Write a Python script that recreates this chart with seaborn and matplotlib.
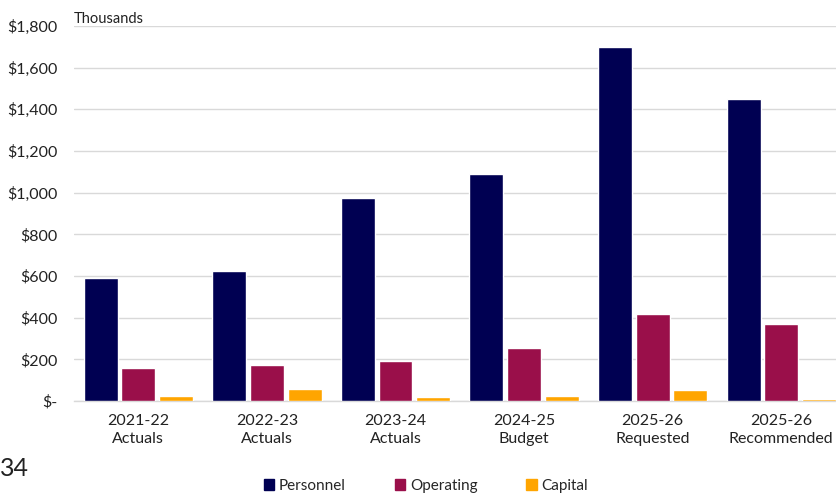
import numpy as np
import pandas as pd
import seaborn as sns
import matplotlib.pyplot as plt
from matplotlib.ticker import FuncFormatter, FixedLocator

# Data (thousands of dollars)
periods = ["2021-22\nActuals", "2022-23\nActuals", "2023-24\nActuals",
           "2024-25\nBudget", "2025-26\nRequested", "2025-26\nRecommended"]
personnel = [590, 624, 975, 1090, 1700, 1450]
operating = [158, 173, 192, 254, 418, 370]
capital = [24, 58, 18, 22, 53, 10]
series = ["Personnel", "Operating", "Capital"]
colors = ["#000052", "#9A0F4A", "#FFA500"]

df = pd.DataFrame({"period": periods, "Personnel": personnel,
                   "Operating": operating, "Capital": capital})
long_df = df.melt(id_vars="period", value_vars=series, var_name="type", value_name="amount")

sns.set_style("white")
plt.rcParams['font.family'] = ['Lato', 'DejaVu Sans']

fig = plt.figure(figsize=(8.37, 4.94), dpi=100)
ax = fig.add_axes([74/837, 93/494, 771.6/837, 375/494])

sns.barplot(data=long_df, x="period", y="amount", hue="type", hue_order=series,
            palette=colors, width=0.88, gap=0.1, saturation=1, ax=ax, legend=False)

ax.set_ylim(0, 1800)
ax.set_xlim(-0.5, len(periods) - 0.5)
ax.set_yticks(np.arange(0, 1801, 200))
ax.yaxis.set_major_formatter(FuncFormatter(lambda v, p: "$-" if v == 0 else f"${v:,.0f}"))
ax.grid(axis="y", color="#d9d9d9", linewidth=1)
ax.set_axisbelow(True)
for s in ["top", "right", "left"]:
    ax.spines[s].set_visible(False)
ax.spines["bottom"].set_color("#d9d9d9")
ax.spines["bottom"].set_linewidth(1)
ax.spines["bottom"].set_zorder(0.5)

ax.tick_params(axis="x", which="major", length=0, pad=9, labelsize=11.5, colors="#222222")
for lbl in ax.get_xticklabels():
    lbl.set_linespacing(1.45)
ax.xaxis.set_minor_locator(FixedLocator(np.arange(-0.5, len(periods), 1)))
ax.tick_params(axis="x", which="minor", length=6, color="#d9d9d9", width=1)
ax.tick_params(axis="y", length=0, pad=12, labelsize=11.5, colors="#222222")
ax.set_xlabel("")
ax.set_ylabel("")

ax.text(0, 1.0, "Thousands", transform=ax.transAxes, fontsize=10.5,
        ha="left", va="bottom", color="#222222")
fig.text(0.0, 1 - 468/494, "34", fontsize=18, ha="left", va="center", color="#222222")

handles = [plt.Rectangle((0, 0), 1, 1, color=c) for c in colors]
fig.legend(handles, series, loc="center", bbox_to_anchor=(426/837, 1 - 486/494),
           ncol=3, frameon=False, fontsize=11, handlelength=0.7, handleheight=0.7,
           handletextpad=0.3, columnspacing=3.2)

fig.savefig("out.png", dpi=100)
